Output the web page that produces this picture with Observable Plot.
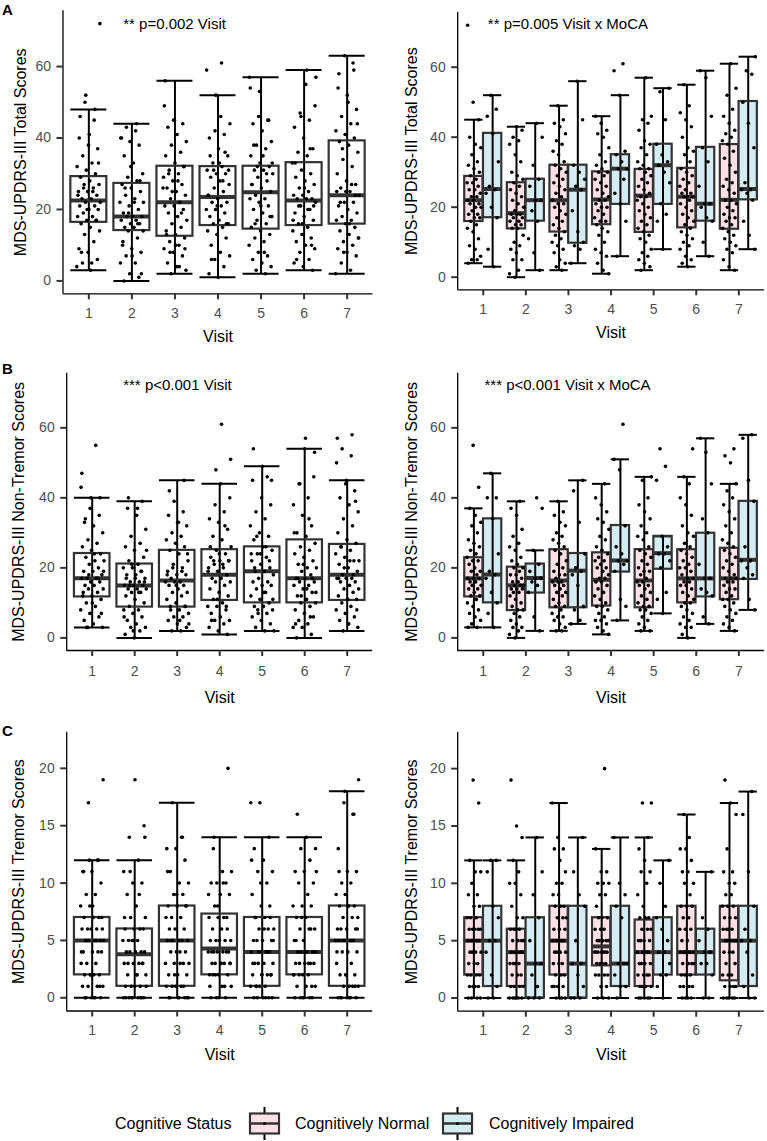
<!DOCTYPE html>
<html>
<head>
<meta charset="utf-8">
<script src="https://cdn.jsdelivr.net/npm/d3@7"></script>
<script src="https://cdn.jsdelivr.net/npm/@observablehq/plot@0.6"></script>
<style>
  body { margin: 0; background: #fff; }
  #fig { position: relative; width: 767px; height: 1141px; background: #fff; overflow: hidden;
         font-family: "Liberation Sans", Arial, sans-serif; }
  .tag { position: absolute; font-weight: bold; font-size: 15px; line-height: 15px; color: #000; }
</style>
</head>
<body>
<div id="fig"></div>
<script>
// ---- categories ----
const visits = [1, 2, 3, 4, 5, 6, 7];
const statuses = ["Cognitively Normal", "Cognitively Impaired"];
const statusFill = ["#ffe0e5", "#d6ecf3"];
const legendTitle = "Cognitive Status";

// ---- observed scores, one string per visit ----
const totalNormal = [
  "4 5 5 6 8 9 11 13 14 15 16 17 17 18 18 19 20 20 21 21 22 22 23 23 24 25 25 26 27 27 28 29 30 31 32 33 35 37 38 40 45 50 72",
  "0 1 2 5 5 7 8 9 10 12 14 14 15 15 16 16 17 17 18 18 18 19 20 21 22 23 24 25 26 27 28 29 30 33 35 38 39 40 42 43",
  "2 3 4 5 7 8 9 10 11 12 13 14 15 16 17 18 19 20 21 21 22 23 24 25 26 27 28 29 30 31 32 33 35 36 38 39 41 43 44 45 49",
  "1 2 4 6 7 8 10 12 13 14 15 16 16 17 18 19 20 20 21 22 22 23 24 25 26 27 28 29 30 30 31 32 33 35 37 40 41 42 44 46",
  "2 3 4 5 6 7 8 10 11 12 13 14 15 16 17 18 19 20 21 22 23 23 24 25 26 27 28 29 30 31 31 32 33 35 37 38 39 42 44 45 46 57",
  "3 4 5 6 8 9 10 11 12 13 14 15 16 17 18 19 20 21 22 23 23 23 24 24 25 26 27 28 29 30 31 33 35 36 37 40 43 45 47 49 55",
  "2 3 5 7 8 9 10 11 12 13 14 15 16 17 17 18 19 20 21 22 22 24 25 26 27 28 30 32 34 36 38 39 40 41 42 44 46 48 52 54 61"
];
const totalImpaired = [
  "3 8 17 20 24 25 26 33 41 46 48 52",
  "2 7 11 16 19 22 22 26 28 32 40 44",
  "4 8 9 10 13 19 25 26 28 30 32 45 56",
  "6 16 21 24 28 31 31 33 35 36 52 59 61",
  "8 16 18 21 27 30 32 33 35 38 45 53 54",
  "6 10 16 17 20 21 21 26 33 37 46 57 59",
  "8 12 16 22 24 25 25 27 37 44 50 58 59 63"
];
const nonTremorNormal = [
  "3 3 4 5 6 7 8 9 10 11 12 12 13 14 14 15 15 16 16 17 17 17 18 19 19 20 21 22 22 23 24 25 26 27 28 30 32 33 35 37 43 55",
  "0 1 2 3 3 4 5 6 7 8 8 9 10 11 12 13 13 14 14 14 15 15 15 16 16 17 18 18 19 20 20 21 22 23 25 26 27 29 31 35 37 39",
  "2 2 3 4 5 6 6 7 8 9 9 10 11 12 13 13 14 15 15 16 16 16 17 18 18 19 20 21 22 24 25 26 27 28 29 30 32 33 35 36 39",
  "1 2 3 4 5 5 6 7 8 9 9 10 11 12 13 14 15 16 16 17 17 18 19 20 20 21 22 22 23 24 25 26 28 29 31 33 34 36 38 40 44",
  "2 2 3 4 5 6 7 8 8 9 9 10 11 12 13 14 15 15 16 16 17 18 19 19 20 21 22 23 24 25 26 28 29 30 32 34 36 38 40 45 46",
  "0 1 3 3 4 5 6 7 8 9 10 10 11 12 13 14 15 15 16 16 17 17 18 19 20 20 21 22 23 24 25 26 27 29 30 32 35 38 40 44 46 54",
  "2 3 4 5 6 7 8 9 10 11 11 12 13 14 14 15 16 16 17 17 17 18 19 20 21 22 23 24 25 26 27 28 30 32 34 36 38 40 42 44 50 52 54"
];
const nonTremorImpaired = [
  "3 7 10 13 17 18 19 24 34 40 40 47",
  "2 6 13 15 16 17 17 19 21 25 37 40",
  "4 5 8 9 15 18 19 20 24 33 42 45",
  "5 9 11 19 21 22 22 24 26 32 48 51 61",
  "7 11 13 20 22 24 24 26 29 45 49 54",
  "4 6 12 13 14 17 17 21 30 34 44 53 57",
  "8 11 17 18 20 22 22 26 39 45 57 58"
];
const tremorNormal = [
  "0 0 0 0 1 1 1 1 2 2 2 2 3 3 3 4 4 4 4 5 5 5 5 5 6 6 6 6 6 7 7 7 8 8 9 9 10 11 11 12 17 19",
  "0 0 0 0 0 0 1 1 1 1 2 2 2 3 3 3 3 4 4 4 4 4 5 5 5 5 6 6 6 6 7 7 8 9 10 10 11 12 14 15 19",
  "0 0 0 0 1 1 1 1 2 2 2 3 3 3 4 4 4 4 5 5 5 5 5 6 6 6 7 7 7 8 8 8 9 9 10 10 11 12 13 13 14 17",
  "0 0 0 1 1 2 2 2 2 3 3 3 3 4 4 4 4 4 4 4 5 5 5 5 5 6 6 6 7 7 7 8 9 9 10 10 10 11 11 13 20",
  "0 0 0 0 0 1 1 1 1 2 2 2 2 3 3 3 3 4 4 4 4 5 5 5 5 6 6 6 7 7 7 8 9 10 11 11 12 13 14 17 17",
  "0 0 0 0 1 1 1 1 2 2 2 2 3 3 3 3 4 4 4 4 4 5 5 6 6 6 7 7 8 8 8 9 10 10 11 11 12 13 13 14 16",
  "0 0 0 0 0 1 1 1 1 2 2 2 3 3 4 4 4 5 5 5 5 5 6 6 6 6 7 7 7 8 8 8 9 9 10 10 11 11 13 16 17 19"
];
const tremorImpaired = [
  "0 0 1 2 4 5 5 7 8 11 12 12",
  "0 0 0 1 2 3 3 5 7 9 11 14",
  "0 0 0 1 2 3 3 5 8 9 11 14",
  "0 1 1 2 3 3 3 7 8 9 10 14",
  "0 1 2 2 3 4 4 5 6 7 8 10 12",
  "0 0 2 3 3 4 4 5 6 7 11",
  "0 0 1 2 4 5 5 6 8 11 16 18"
];

// ---- box summaries per visit: [lower whisker, Q1, median, Q3, upper whisker] ----
const totalAllBox = [[3,16.4,22.5,29.2,48],[0,14.1,18,27.3,44],[2,12.5,22,32.1,56],[1,15.5,23.5,32,52],[2,14.5,24.8,32.1,57],[3,15.5,22.5,33.1,59],[2,15.9,24,39.2,63]];
const totalNormalBox = [[4,15.9,22,28.8,45],[0,13.8,18.3,27,43],[2,12.9,22,32,49],[1,15,22.2,30.1,46],[2,12.8,23.3,30.8,57],[3,14.1,23,31.1,55],[2,13.7,22.1,37.9,61]];
const totalImpairedBox = [[3,17,25.2,41.1,52],[2,16,22,28,44],[4,9.7,25,32,56],[6,20.8,31,35,52],[8,20.8,32,38,54],[6,16,21,37.1,59],[8,22.1,25.2,50.2,63]];
const nonTremorAllBox = [[3,11.7,17,24.1,40],[0,8.8,15,21.1,39],[2,8.8,16.4,25,45],[1,10.7,18,25.2,44],[2,10,19,26,49],[0,10,17,28,54],[2,10.7,18,26.7,45]];
const nonTremorNormalBox = [[3,11.7,17,22.9,37],[0,7.8,15,20.2,39],[2,8.6,16.4,25.2,39],[1,9.1,16.6,24.3,44],[2,8.6,16.4,25.2,46],[0,10,17,25.2,46],[2,10.9,17,25.6,44]];
const nonTremorImpairedBox = [[3,10,18.1,34,47],[2,12.8,17.1,21.1,25],[4,8.6,19.2,24.1,45],[5,18.8,22.1,32.1,51],[7,19.6,24.2,29,29],[4,11.7,17,29.9,57],[8,16.7,22.3,39,58]];
const tremorAllBox = [[0,2,5,7,12],[0,1,3.8,6,12],[0,1,5,8,17],[0,2,4.3,7.3,14],[0,1,4,7,14],[0,2,4,7,14],[0,1,5,8,18]];
const tremorNormalBox = [[0,2,5,7,12],[0,1,4,6,12],[0,2,5,8,17],[0,2.8,4.5,7,13],[0,1,4,6.8,14],[0,2,4,8,16],[0,1.5,5,8,17]];
const tremorImpairedBox = [[0,1,5,8,12],[0,0,3,7,14],[0,0,3,8,14],[0,1,3,8,14],[0,2,4,7,12],[0,2,4,6,11],[0,1,5,8,18]];

// ---- axis ticks and texts ----
const scoreTicks = [0, 20, 40, 60];
const tremorTicks = [0, 5, 10, 15, 20];
const titles = ["MDS-UPDRS-III Total Scores", "MDS-UPDRS-III Non-Tremor Scores", "MDS-UPDRS-III Tremor Scores"];
const notesVisit = ["** p=0.002 Visit", "*** p<0.001 Visit", null];
const notesInteraction = ["** p=0.005 Visit x MoCA", "*** p<0.001 Visit x MoCA", null];
const panelTags = ["A", "B", "C"];
const xTitle = "Visit";

// ---- drawing ----
const fig = document.getElementById("fig");
const FONT = '"Liberation Sans", Arial, sans-serif';
const boxStroke = "#333333";
const parse = s => s.trim().split(/\s+/).map(Number);
const phi = 0.6180339887498949;
const spread = (i, seed) => (((i * phi + seed) % 1) + 1) % 1 * 2 - 1;

function makeBoxes(stats, offset, half) {
  return stats.map(([lo, q1, med, q3, hi], k) => ({
    xc: visits[k] + offset, x1: visits[k] + offset - half, x2: visits[k] + offset + half,
    lo, q1, med, q3, hi
  }));
}

function boxMarks(boxes, fill) {
  return [
    Plot.rect(boxes, {x1: "x1", x2: "x2", y1: "q1", y2: "q3", fill}),
    Plot.ruleX(boxes, {x: "xc", y1: "lo", y2: "hi", stroke: "black", strokeWidth: 2}),
    Plot.ruleY(boxes, {y: "lo", x1: "x1", x2: "x2", stroke: "black", strokeWidth: 2}),
    Plot.ruleY(boxes, {y: "hi", x1: "x1", x2: "x2", stroke: "black", strokeWidth: 2}),
    Plot.rect(boxes, {x1: "x1", x2: "x2", y1: "q1", y2: "q3", fill: "none", stroke: boxStroke, strokeWidth: 2.2}),
    Plot.ruleY(boxes, {y: "med", x1: "x1", x2: "x2", stroke: boxStroke, strokeWidth: 4})
  ];
}

function panel(cfg) {
  const {left, top, width, height, g} = cfg;
  const [d0, d1] = cfg.yDomain;
  const svg = Plot.plot({
    width, height,
    marginLeft: g.x0 - left, marginRight: left + width - g.x1,
    marginTop: g.yT - top, marginBottom: top + height - g.yB,
    x: {domain: [0.4, 7.6], label: null},
    y: {domain: cfg.yDomain, label: null},
    style: {fontFamily: FONT, background: "transparent", overflow: "visible", color: "black"},
    marks: [
      ...cfg.boxMarks,
      Plot.dot(cfg.points, {x: "x", y: "y", r: 1.8, fill: "black", stroke: null}),
      Plot.ruleX([0.4], {stroke: "black", strokeWidth: 1.3}),
      Plot.ruleY([d0], {stroke: "black", strokeWidth: 1.3}),
      Plot.axisX({ticks: visits, tickFormat: d => String(d), tickSize: 6, tickPadding: cfg.xPad, fontSize: 14,
                  stroke: "#333", fill: "#4d4d4d", strokeWidth: 2, label: null}),
      Plot.axisY({ticks: cfg.yTicks, tickSize: 6, tickPadding: 6, fontSize: 14,
                  stroke: "#333", fill: "#4d4d4d", strokeWidth: 2, label: null}),
      Plot.text([cfg.title], {text: d => d, x: 0.4, y: (d0 + d1) / 2, dx: cfg.titleX - g.x0, rotate: -90,
                              textAnchor: "middle", lineAnchor: "middle", fontSize: 16, fill: "black"}),
      Plot.text([xTitle], {text: d => d, frameAnchor: "bottom", dy: cfg.xTitleDy, fontSize: 16, fill: "black", lineAnchor: "middle"}),
      cfg.note ? Plot.text([cfg.note], {text: d => d, frameAnchor: "top-left", dx: cfg.noteX - g.x0, dy: cfg.noteY - g.yT,
                                        textAnchor: "start", lineAnchor: "middle", fontSize: 15, fill: "black"}) : null
    ]
  });
  svg.style.position = "absolute";
  svg.style.left = left + "px";
  svg.style.top = top + "px";
  fig.appendChild(svg);
}

const measures = [
  {normal: totalNormal, impaired: totalImpaired, all: totalAllBox, nBox: totalNormalBox, iBox: totalImpairedBox,
   yDomain: [-3.6, 75.6], yTicks: scoreTicks},
  {normal: nonTremorNormal, impaired: nonTremorImpaired, all: nonTremorAllBox, nBox: nonTremorNormalBox, iBox: nonTremorImpairedBox,
   yDomain: [-3.6, 75.6], yTicks: scoreTicks},
  {normal: tremorNormal, impaired: tremorImpaired, all: tremorAllBox, nBox: tremorNormalBox, iBox: tremorImpairedBox,
   yDomain: [-1.15, 23.15], yTicks: tremorTicks}
];

// plot-area geometry (page pixels) for each row: [left column, right column]
const rows = [
  {top: 0,   L: {x0: 62.5, x1: 372.5, yT: 10.3, yB: 293.3}, R: {x0: 457.2, x1: 763.9, yT: 12.1, yB: 289.3},
   titleXL: 20, noteL: [122.7, 24], noteR: [487.3, 24], tagY: 1.5, xPad: 8, xTitleDy: 43.5},
  {top: 360, L: {x0: 66.2, x1: 372.2, yT: 372.7, yB: 650}, R: {x0: 457.2, x1: 763.9, yT: 372.7, yB: 650},
   titleXL: 18.3, noteL: [122.7, 385], noteR: [484, 385], tagY: 361, xPad: 10, xTitleDy: 47},
  {top: 720, L: {x0: 66.2, x1: 372.2, yT: 731.7, yB: 1010.5}, R: {x0: 457.2, x1: 763.9, yT: 732, yB: 1010.7},
   titleXL: 18.3, noteL: null, noteR: null, tagY: 723, xPad: 8, xTitleDy: 44}
];

measures.forEach((m, r) => {
  const row = rows[r];
  const normalVals = m.normal.map(parse);
  const impairedVals = m.impaired.map(parse);

  // left: all participants per visit
  const allPoints = [];
  visits.forEach((v, k) => {
    const vals = normalVals[k].concat(impairedVals[k]);
    vals.forEach((y, i) => allPoints.push({x: v + 0.28 * spread(i, 0.17 * k + 0.31 * r), y}));
  });
  panel({
    left: 0, top: row.top, width: 383, height: 350, g: row.L,
    yDomain: m.yDomain, yTicks: m.yTicks, title: titles[r], titleX: row.titleXL,
    xPad: row.xPad, xTitleDy: row.xTitleDy,
    note: notesVisit[r], noteX: row.noteL && row.noteL[0], noteY: row.noteL && row.noteL[1],
    boxMarks: boxMarks(makeBoxes(m.all, 0, 0.418), "white"),
    points: allPoints
  });

  // right: split by cognitive status
  const splitPoints = [];
  visits.forEach((v, k) => {
    normalVals[k].forEach((y, i) => splitPoints.push({x: v - 0.22 + 0.17 * spread(i, 0.29 * k + 0.11), y}));
    impairedVals[k].forEach((y, i) => splitPoints.push({x: v + 0.22 + 0.17 * spread(i, 0.23 * k + 0.57), y}));
  });
  panel({
    left: 383, top: row.top, width: 384, height: 350, g: row.R,
    yDomain: m.yDomain, yTicks: m.yTicks, title: titles[r], titleX: 411.7,
    xPad: row.xPad, xTitleDy: row.xTitleDy,
    note: notesInteraction[r], noteX: row.noteR && row.noteR[0], noteY: row.noteR && row.noteR[1],
    boxMarks: [...boxMarks(makeBoxes(m.nBox, -0.22, 0.215), statusFill[0]),
               ...boxMarks(makeBoxes(m.iBox, 0.22, 0.215), statusFill[1])],
    points: splitPoints
  });

  const tag = document.createElement("div");
  tag.className = "tag";
  tag.textContent = panelTags[r];
  tag.style.left = "2px";
  tag.style.top = row.tagY + "px";
  fig.appendChild(tag);
});

// ---- legend ----
const legend = d3.create("svg")
  .attr("width", 767).attr("height", 46)
  .style("position", "absolute").style("left", "0px").style("top", "1095px")
  .style("font-family", FONT);
legend.append("text").attr("x", 115).attr("y", 28.5).attr("dy", "0.35em")
  .attr("font-size", 16).attr("fill", "black").text(legendTitle);
const keyX = [250, 443];
const labelX = [295, 489];
statuses.forEach((s, i) => {
  const g = legend.append("g").attr("transform", `translate(${keyX[i]},0)`);
  g.append("line").attr("x1", 14.5).attr("x2", 14.5).attr("y1", 12).attr("y2", 45).attr("stroke", "black").attr("stroke-width", 2);
  g.append("rect").attr("x", 0).attr("y", 18.5).attr("width", 29).attr("height", 20)
    .attr("fill", statusFill[i]).attr("stroke", boxStroke).attr("stroke-width", 2.2);
  g.append("line").attr("x1", 0).attr("x2", 29).attr("y1", 28.5).attr("y2", 28.5).attr("stroke", boxStroke).attr("stroke-width", 2.5);
  g.append("circle").attr("cx", 14.5).attr("cy", 28.5).attr("r", 1.5).attr("fill", "black");
  legend.append("text").attr("x", labelX[i]).attr("y", 28.5).attr("dy", "0.35em")
    .attr("font-size", 16).attr("fill", "black").text(s);
});
fig.appendChild(legend.node());
</script>
</body>
</html>
